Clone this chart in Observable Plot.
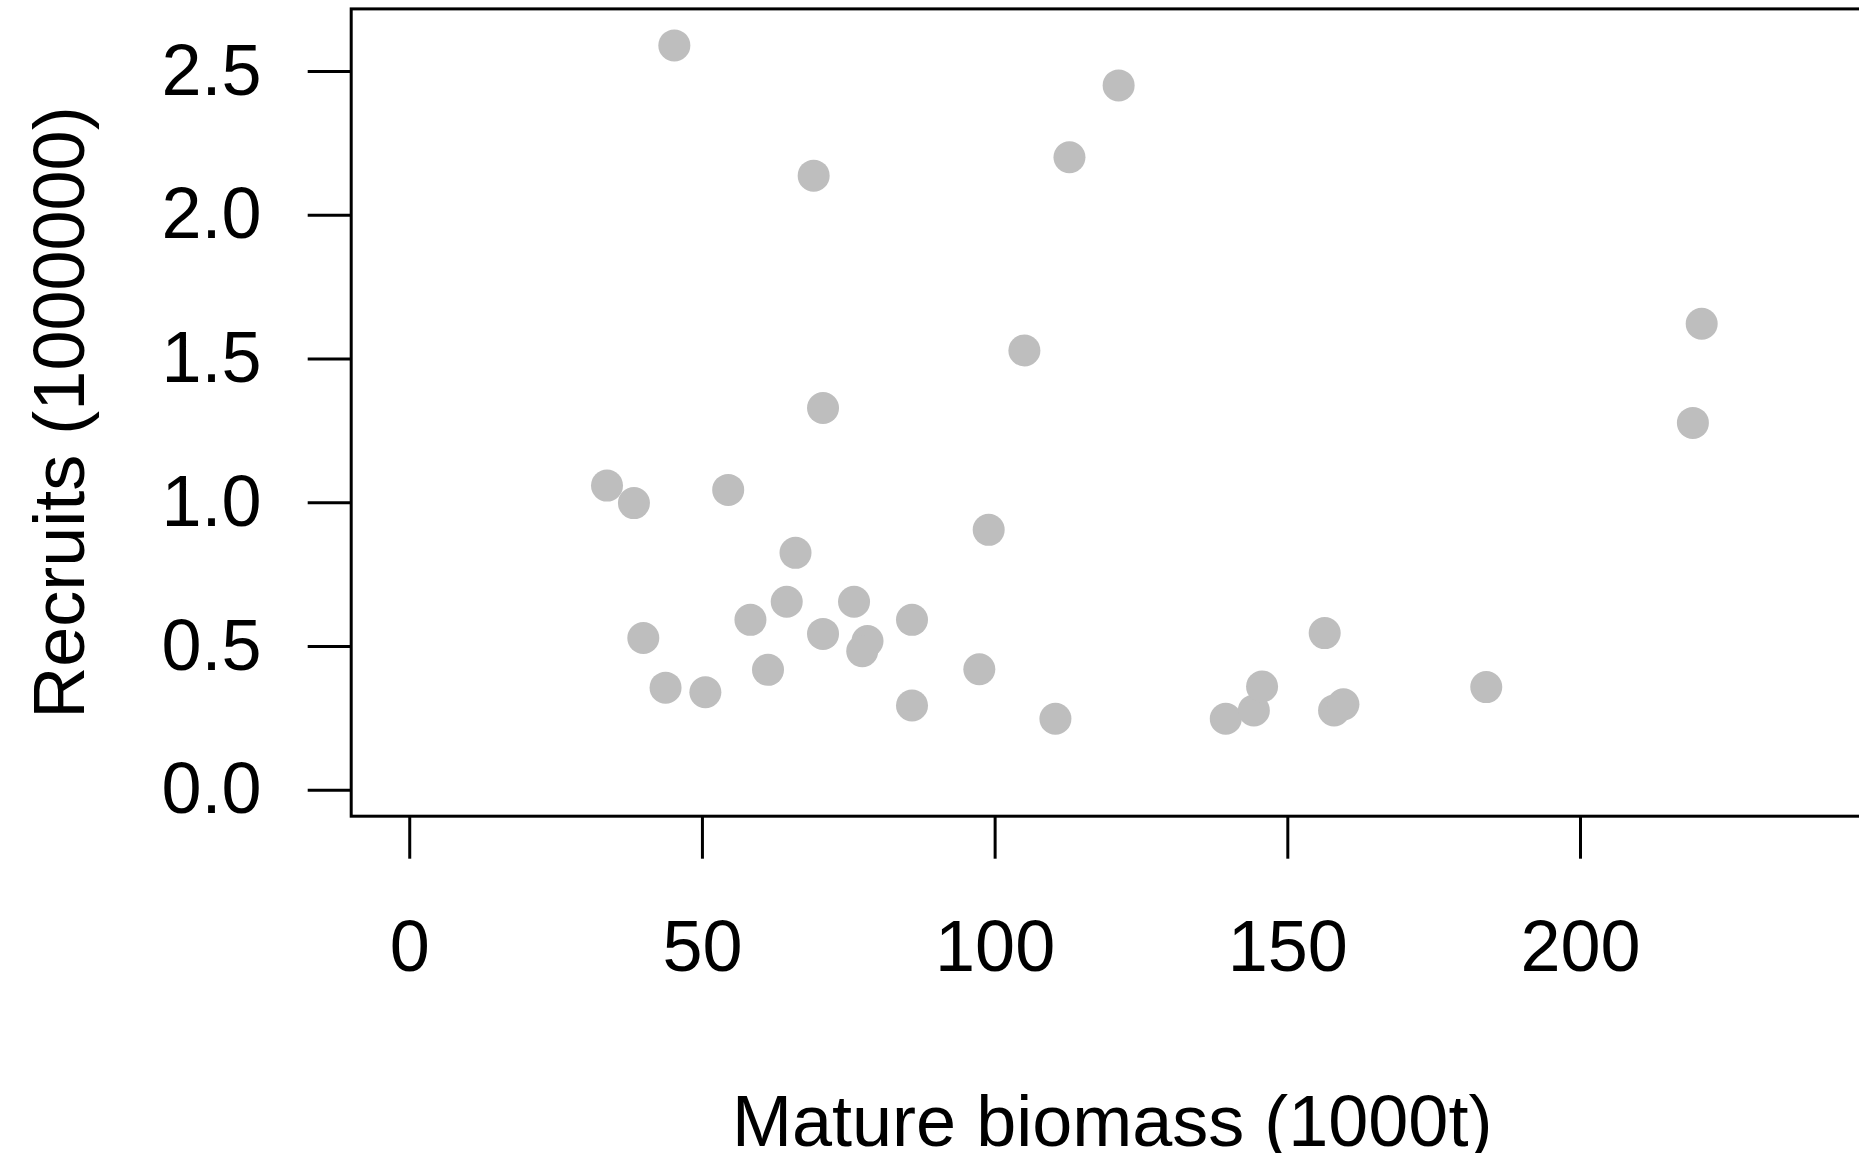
<!DOCTYPE html>
<html>
<head>
<meta charset="utf-8">
<script src="https://cdn.jsdelivr.net/npm/d3@7"></script>
<script src="https://cdn.jsdelivr.net/npm/@observablehq/plot@0.6"></script>
<style>
  html, body { margin: 0; padding: 0; background: white; overflow: hidden; }
  #chart svg { display: block; max-width: none; }
  #chart g[aria-label$="axis tick"],
  #chart g[aria-label$="axis tick"] path { stroke-width: 3px; stroke: black; }
</style>
</head>
<body>
<div id="chart"></div>
<script>
// Mature biomass (1000t) and recruits (1000000)
const biomass = [45.2, 69.0, 70.6, 33.7, 38.3, 54.4, 65.9, 64.4, 58.2, 75.9,
                 85.8, 70.6, 78.2, 77.3, 39.9, 61.2, 43.7, 50.5, 85.8, 98.9,
                 97.3, 121.1, 112.7, 105.0, 110.3, 139.4, 144.2, 145.6, 156.3, 157.9,
                 159.5, 220.7, 219.2, 183.9];
const recruits = [2.577, 2.124, 1.316, 1.046, 0.985, 1.031, 0.812, 0.642, 0.579, 0.642,
                  0.579, 0.530, 0.505, 0.470, 0.516, 0.405, 0.343, 0.327, 0.281, 0.892,
                  0.407, 2.438, 2.188, 1.516, 0.235, 0.235, 0.264, 0.347, 0.533, 0.264,
                  0.285, 1.609, 1.264, 0.345];
const xTicks = [0, 50, 100, 150, 200];
const yTicks = [0, 0.5, 1.0, 1.5, 2.0, 2.5];
const xLabel = "Mature biomass (1000t)";
const yLabel = "Recruits (1000000)";

const data = biomass.map((b, i) => ({biomass: b, recruits: recruits[i]}));

const font = "'Liberation Sans', Arial, sans-serif";

const chart = Plot.plot({
  width: 1859,
  height: 1153,
  marginLeft: 350.7,
  marginRight: -13.7,
  marginTop: 8.4,
  marginBottom: 337.3,
  style: {fontSize: "72px", fontFamily: font, color: "black", background: "white", overflow: "hidden"},
  x: {domain: [-10, 250]},
  y: {domain: [-0.104, 2.704]},
  marks: [
    Plot.dot(data, {x: "biomass", y: "recruits", r: 16, fill: "#bebebe", stroke: "none"}),
    Plot.frame({stroke: "black", strokeWidth: 3}),
    Plot.axisX({ticks: xTicks, tickSize: 43, tickPadding: 60.3, strokeWidth: 3, label: null, tickFormat: d3.format("d")}),
    Plot.axisY({ticks: yTicks, tickSize: 43, tickPadding: 46.7, strokeWidth: 3, label: null, tickFormat: d3.format(".1f"), dy: 4}),
    Plot.text([xLabel], {text: d => d, frameAnchor: "bottom", lineAnchor: "bottom", dy: 329.3, fontSize: 72, fill: "black"}),
    Plot.text([yLabel], {text: d => d, frameAnchor: "left", lineAnchor: "bottom", textAnchor: "middle", rotate: -90, dx: -267.7, fontSize: 72, fill: "black"})
  ]
});

document.getElementById("chart").appendChild(chart);
</script>
</body>
</html>
